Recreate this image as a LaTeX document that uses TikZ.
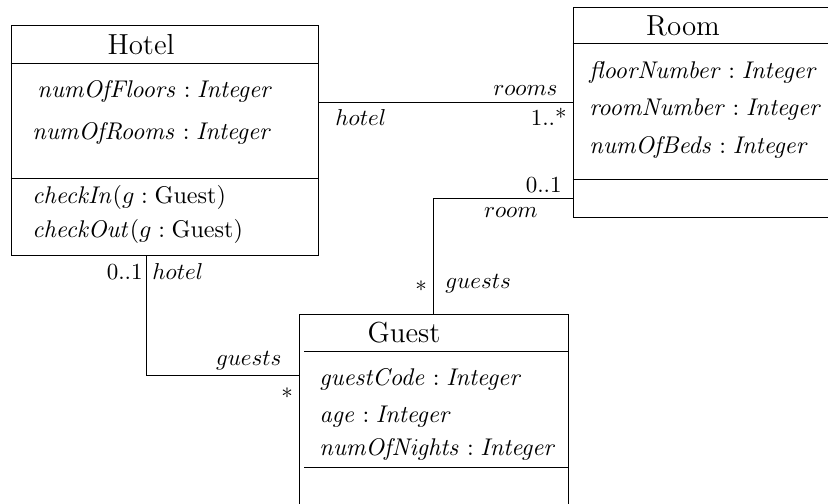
\RequirePackage{fix-cm}
\documentclass[tikz,border=0pt]{standalone}
\usetikzlibrary{fit}
\begin{document}
\begin{tikzpicture}[x=0.4348pt, y=-0.4348pt, line width=0.4pt,
  classbox/.style={draw, inner sep=0pt},
  classname/.style={font=\fontsize{12.6}{15}\selectfont, inner sep=0pt},
  member/.style={font=\fontsize{10.5}{12.6}\selectfont, anchor=base west, inner sep=0pt},
  rolel/.style={anchor=base west, inner sep=0pt},
  roler/.style={anchor=base east, inner sep=0pt},
  mult/.style={inner sep=0pt}]
\useasboundingbox (0,0) rectangle (828,503);
\clip (0,0) rectangle (828,503);

% class boxes
\node[classbox, fit={(11,25) (318,255)}] (hotel) {};
\node[classbox, fit={(573,7) (840,217)}] (room) {};
\node[classbox, fit={(299,314) (568,530)}] (guest) {};

% compartment rows
\coordinate (hotelHead) at (0,63);
\coordinate (hotelOps) at (0,178);
\coordinate (roomHead) at (0,43);
\coordinate (roomOps) at (0,179);
\coordinate (guestHead) at (0,351);
\coordinate (guestOps) at (0,467);
\coordinate (guestInset) at (304,0);

\draw (hotel.west |- hotelHead) -- (hotel.east |- hotelHead);
\draw (hotel.west |- hotelOps) -- (hotel.east |- hotelOps);
\draw (room.west |- roomHead) -- (room.east |- roomHead);
\draw (room.west |- roomOps) -- (room.east |- roomOps);
\draw (guestInset |- guestHead) -- (guest.east |- guestHead);
\draw (guestInset |- guestOps) -- (guest.east |- guestOps);

% Hotel
\node[classname] (hotelname) at (141,45) {Hotel};
\node[member] (h1) at (37,97) {$\mathit{numOfFloors} : \mathit{Integer}$};
\node[member] (h2) at (32,139) {$\mathit{numOfRooms} : \mathit{Integer}$};
\node[member] (h3) at (32,203) {$\mathit{checkIn}(g : \mathrm{Guest})$};
\node[member] (h4) at (32,237) {$\mathit{checkOut}(g : \mathrm{Guest})$};

% Room
\node[classname] (roomname) at (683,26) {Room};
\node[member] (r1) at (589,78) {$\mathit{floorNumber} : \mathit{Integer}$};
\node[member] (r2) at (589,115) {$\mathit{roomNumber} : \mathit{Integer}$};
\node[member] (r3) at (589,153) {$\mathit{numOfBeds} : \mathit{Integer}$};

% Guest
\node[classname] (guestname) at (404,333) {Guest};
\node[member] (g1) at (319,385) {$\mathit{guestCode} : \mathit{Integer}$};
\node[member] (g2) at (319,422) {$\mathit{age} : \mathit{Integer}$};
\node[member] (g3) at (319,455) {$\mathit{numOfNights} : \mathit{Integer}$};

% associations
\coordinate (hrY) at (0,102);
\coordinate (rgY) at (0,198);
\coordinate (rgX) at (433,0);
\coordinate (hgX) at (146,0);
\coordinate (hgY) at (0,375);

\draw (hotel.east |- hrY) -- (room.west |- hrY);
\draw (room.west |- rgY) -| (rgX |- guest.north);
\draw (hgX |- hotel.south) |- (guest.west |- hgY);

% Hotel -- Room ends
\node[roler] (lrooms) at (558,95) {$rooms$};
\node[roler] (mrooms) at (567,125) {1..*};
\node[rolel] (lhotel1) at (335,125) {$hotel$};

% Room -- Guest ends
\node[roler] (mroom) at (562,192) {$0..1$};
\node[roler] (lroom) at (538,217) {$room$};
\node[mult] (mguests1) at (421,286) {$*$};
\node[rolel] (lguests1) at (445,288) {$guests$};

% Hotel -- Guest ends
\node[roler] (mhotel) at (143,279) {$0..1$};
\node[rolel] (lhotel2) at (152,279) {$hotel$};
\node[roler] (lguests2) at (282,365) {$guests$};
\node[mult] (mguests2) at (287,393) {$*$};
\end{tikzpicture}
\end{document}
